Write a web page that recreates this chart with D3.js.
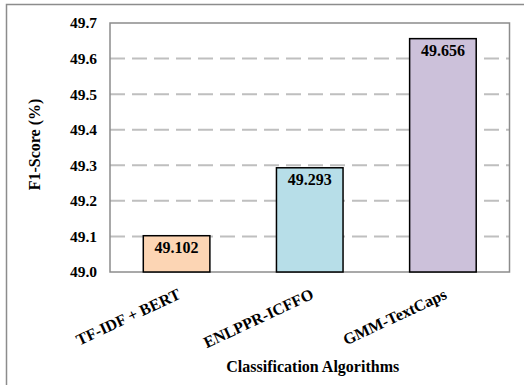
<!DOCTYPE html>
<html>
<head>
<meta charset="utf-8">
<script src="https://cdn.jsdelivr.net/npm/d3@7"></script>
<style>
  html, body { margin: 0; padding: 0; background: #fff; }
  svg { display: block; }
  svg text { font-family: "Times New Roman", "Liberation Serif", serif !important; font-weight: bold; fill: #000; }
</style>
</head>
<body>
<script>
// F1-score per classification algorithm
const categories = ["TF-IDF + BERT", "ENLPPR-ICFFO", "GMM-TextCaps"];
const f1Scores = [49.102, 49.293, 49.656];
const barColors = ["#fcd5b4", "#b7dee8", "#ccc1da"];
const yTicks = [49.0, 49.1, 49.2, 49.3, 49.4, 49.5, 49.6, 49.7];
const yTitle = "F1-Score (%)";
const xTitle = "Classification Algorithms";

const W = 524, H = 385;
const plot = { left: 110, top: 23, right: 509.5, bottom: 272 };

const svg = d3.select("body").append("svg")
  .attr("width", W).attr("height", H);

// outer chart frame (continues past the right and bottom edges)
svg.append("rect")
  .attr("x", 6.5).attr("y", 4.5)
  .attr("width", W + 10).attr("height", H + 10)
  .attr("fill", "#fff").attr("stroke", "#8c8c8c").attr("stroke-width", 1.5);

const x = d3.scaleBand()
  .domain(categories)
  .range([plot.left, plot.right])
  .paddingInner(0.5).paddingOuter(0.25);

const y = d3.scaleLinear()
  .domain([49.0, 49.7])
  .range([plot.bottom, plot.top]);

// dashed horizontal gridlines
svg.append("g").selectAll("line")
  .data(yTicks.filter(t => t > 49.0 && t < 49.7))
  .join("line")
  .attr("x1", plot.left).attr("x2", plot.right)
  .attr("y1", d => y(d)).attr("y2", d => y(d))
  .attr("stroke", "#bfbfbf").attr("stroke-width", 2)
  .attr("stroke-dasharray", "15,7");

// plot-area border
svg.append("rect")
  .attr("x", plot.left).attr("y", plot.top)
  .attr("width", plot.right - plot.left).attr("height", plot.bottom - plot.top)
  .attr("fill", "none").attr("stroke", "#8c8c8c").attr("stroke-width", 1.5);

// y axis tick labels
const yAxis = d3.axisLeft(y).tickValues(yTicks).tickFormat(d3.format(".1f")).tickSize(0).tickPadding(13);
const yg = svg.append("g").attr("transform", `translate(${plot.left},0)`).call(yAxis);
yg.attr("font-family", null).attr("font-size", null);
yg.select(".domain").remove();
yg.selectAll("text").attr("font-size", 15.5);

// bars
svg.append("g").selectAll("rect")
  .data(categories)
  .join("rect")
  .attr("x", d => x(d))
  .attr("width", x.bandwidth())
  .attr("y", (d, i) => y(f1Scores[i]))
  .attr("height", (d, i) => y(49.0) - y(f1Scores[i]))
  .attr("fill", (d, i) => barColors[i])
  .attr("stroke", "#000").attr("stroke-width", 1.5);

// value labels inside bar tops
svg.append("g").selectAll("text")
  .data(categories)
  .join("text")
  .attr("x", d => x(d) + x.bandwidth() / 2)
  .attr("y", (d, i) => y(f1Scores[i]) + 17.5)
  .attr("text-anchor", "middle")
  .attr("font-size", 16)
  .text((d, i) => f1Scores[i].toFixed(3));

// rotated category labels
svg.append("g").selectAll("text")
  .data(categories)
  .join("text")
  .attr("transform", d => `translate(${x(d) + x.bandwidth() / 2 + 5},298) rotate(-25)`)
  .attr("text-anchor", "end")
  .attr("font-size", 16)
  .text(d => d);

// axis titles
svg.append("text")
  .attr("transform", `translate(40,${(plot.top + plot.bottom) / 2 - 3}) rotate(-90)`)
  .attr("text-anchor", "middle")
  .attr("font-size", 16)
  .text(yTitle);

svg.append("text")
  .attr("x", (plot.left + plot.right) / 2 + 3)
  .attr("y", 372)
  .attr("text-anchor", "middle")
  .attr("font-size", 16)
  .text(xTitle);
</script>
</body>
</html>
